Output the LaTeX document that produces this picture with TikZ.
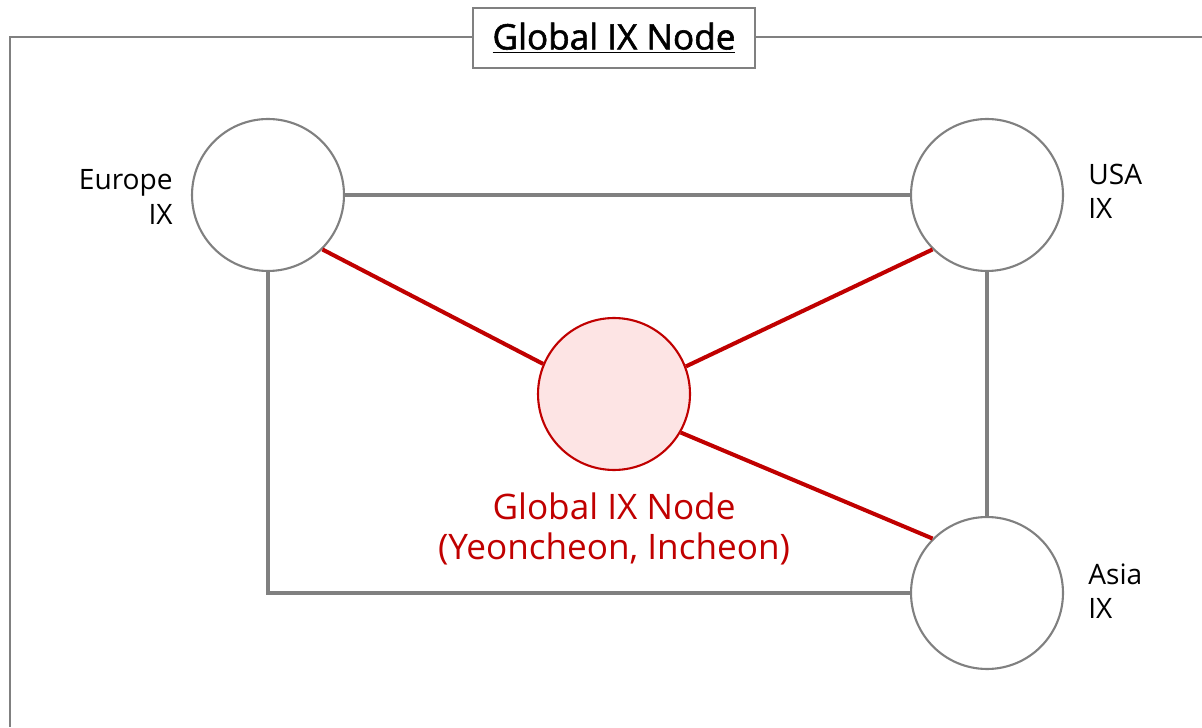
\documentclass[tikz,border=0pt]{standalone}
\usepackage{fontspec}
\setmainfont{Open Sans}
\newfontfamily\titlefont[FakeBold=1.6]{Open Sans}
\usepackage{tikz}
\usetikzlibrary{positioning}
\definecolor{ixgray}{HTML}{808080}
\definecolor{ixred}{HTML}{C00000}
\definecolor{ixpink}{HTML}{FDE4E4}
\tikzstyle{ixnode} = [circle, minimum size=3.04cm, inner sep=0pt,
  draw=ixgray, line width=1.2pt, fill=white]
\tikzstyle{hubnode} = [circle, minimum size=3.04cm, inner sep=0pt,
  draw=ixred, line width=1.2pt, fill=ixpink]
\tikzstyle{ixlabel} = [font=\fontsize{16}{19.5}\selectfont, inner sep=0pt]
\tikzstyle{grayline} = [draw=ixgray, line width=2.3pt]
\tikzstyle{redline} = [draw=ixred, line width=2.3pt]
\tikzstyle{frameline} = [draw=ixgray, line width=1.1pt]
\tikzstyle{titlebox} = [rectangle, draw=ixgray, line width=0.9pt, fill=white,
  minimum width=5.64cm, minimum height=1.2cm,
  font=\titlefont\fontsize{20}{24}\selectfont]

\begin{document}
\begin{tikzpicture}[x=0.02cm, y=0.02cm]
  \useasboundingbox (0,0) rectangle (1202,727);
  % frame and title
  \coordinate (frametr) at (1202,690);
  \coordinate (frametl) at (10,690);
  \coordinate (framebl) at (10,0);
  \draw [frameline] (frametr) -- (frametl) -- (framebl);
  \node (title) [titlebox] at (614,689) {\underline{Global IX Node}};

  % exchange points
  \node (europe) [ixnode] at (268,532) {};
  \node (usa) [ixnode] at (987,532) {};
  \node (gnode) [hubnode] at (614,333) {};
  \node (asia) [ixnode] at (987,134) {};

  \node (europelbl) [ixlabel, align=right, anchor=east] at (173,530) {Europe\\IX};
  \node (usalbl) [ixlabel, align=left, anchor=west] at (1088,536) {USA\\IX};
  \node (asialbl) [ixlabel, align=left, anchor=west] at (1088,136) {Asia\\IX};
  \node (gnodelbl) [below=0.42cm of gnode, align=center, text=ixred, inner sep=0pt,
    font=\fontsize{20}{23}\selectfont] {Global IX Node\\(Yeoncheon, Incheon)};

  % links
  \draw [grayline] (europe.east) -- (usa.west);
  \draw [grayline] (europe.south) |- (asia.west);
  \draw [grayline] (usa.south) -- (asia.north);
  \draw [redline] (europe.-45) -- (gnode.157);
  \draw [redline] (usa.225) -- (gnode.21);
  \draw [redline] (gnode.-30) -- (asia.135);
\end{tikzpicture}
\end{document}
